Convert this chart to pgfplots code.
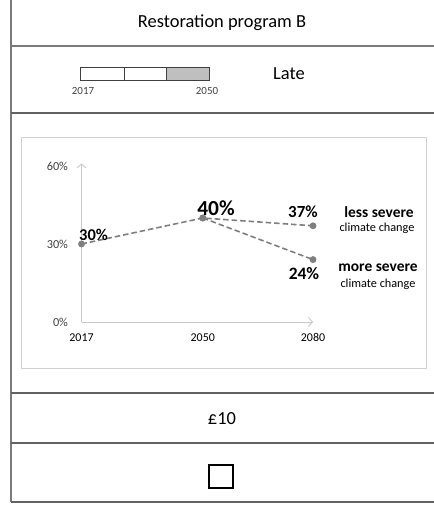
\documentclass[border=0pt]{standalone}
\usepackage{pgfplots}
\pgfplotsset{compat=1.18}
\usetikzlibrary{arrows.meta}
\usepackage{fontspec}
\setmainfont{Carlito}
\definecolor{frame}{HTML}{7A7A7A}
\definecolor{lineg}{HTML}{7F7F7F}
\definecolor{axg}{HTML}{C8C8C8}
\definecolor{boxg}{HTML}{D0D0D0}
\definecolor{labg}{HTML}{404040}
\definecolor{barg}{HTML}{BFBFBF}
\begin{document}
\begin{tikzpicture}[x=1bp,y=1bp]
\path[use as bounding box] (0,0) rectangle (434,508);
% table frame
\draw[frame, line width=1.8bp] (11,508) -- (11,6);
\draw[frame, line width=1.2bp] (11,462) -- (434,462);
\draw[frame!80!black, line width=1.2bp] (11,395) -- (434,395);
\draw[frame!80!black, line width=1.2bp] (11,115) -- (434,115);
\draw[frame!80!black, line width=1.2bp] (11,65) -- (434,65);
\draw[frame!80!black, line width=1.2bp] (11,6) -- (434,6);
% title row
\node[font=\fontsize{18.5}{20}\selectfont] at (222,485) {Restoration program B};
% timeline row
\fill[barg] (166,428) rectangle (209,441);
\draw[labg, line width=0.9bp] (80,428) rectangle (209,441);
\draw[labg, line width=0.9bp] (124,428) -- (124,441);
\draw[labg, line width=0.9bp] (166,428) -- (166,441);
\node[font=\fontsize{11}{12}\selectfont, text=labg] at (83,417) {2017};
\node[font=\fontsize{11}{12}\selectfont, text=labg] at (207,417) {2050};
\node[font=\fontsize{18.5}{20}\selectfont] at (289,434) {Late};
% chart box
\draw[boxg, line width=0.9bp] (21,140) rectangle (426,371);
\coordinate (axorig) at (81.5,186);
\begin{axis}[
  at={(axorig)}, anchor=south west,
  scale only axis, width=231.5bp, height=158.6bp,
  xmin=2017, xmax=2080, ymin=0, ymax=61,
  enlargelimits=false, clip=false,
  axis lines=left,
  axis line style={draw=axg, line width=0.9bp, -{Straight Barb[length=4bp,width=9bp]}},
  xtick={2017,2050,2080}, ytick={0,30,60},
  yticklabels={0\%,30\%,60\%},
  xticklabels={2017,2050,2080},
  major tick length=0pt,
  /pgf/number format/assume math mode=true,
  xticklabel style={font=\fontsize{12}{13}\selectfont, text=black, anchor=base, yshift=-20bp},
  yticklabel style={font=\fontsize{12.3}{13}\selectfont, text=labg, anchor=east, xshift=-10bp},
]
\addplot[lineg, line width=1.6bp, dash pattern=on 5.5bp off 3bp, mark=*, mark options={solid, fill=lineg, draw=lineg, scale=1.3}]
  coordinates {(2017,30) (2050,40) (2080,37)};
\addplot[lineg, line width=1.6bp, dash pattern=on 5.5bp off 3bp, mark=*, mark options={solid, fill=lineg, draw=lineg, scale=1.3}]
  coordinates {(2050,40) (2080,24)};
\end{axis}
% annotations
\node[font=\bfseries\fontsize{16.5}{18}\selectfont] at (93.5,273) {30\%};
\node[font=\bfseries\fontsize{21.5}{22}\selectfont] at (216,300) {40\%};
\node[font=\bfseries\fontsize{17}{18}\selectfont] at (303,296) {37\%};
\node[font=\bfseries\fontsize{17.5}{18}\selectfont] at (304,234) {24\%};
\node[font=\bfseries\fontsize{15.5}{16}\selectfont] at (379,296) {less severe};
\node[font=\fontsize{12.3}{13}\selectfont] at (377,280) {climate change};
\node[font=\bfseries\fontsize{15.5}{16}\selectfont] at (378,240) {more severe};
\node[font=\fontsize{12.3}{13}\selectfont] at (378,224) {climate change};
% price row
\node[font=\fontsize{18.5}{20}\selectfont] at (222,89) {£10};
% checkbox row
\draw[black, line width=1.3bp] (209,20) rectangle (233,43);
\end{tikzpicture}
\end{document}
